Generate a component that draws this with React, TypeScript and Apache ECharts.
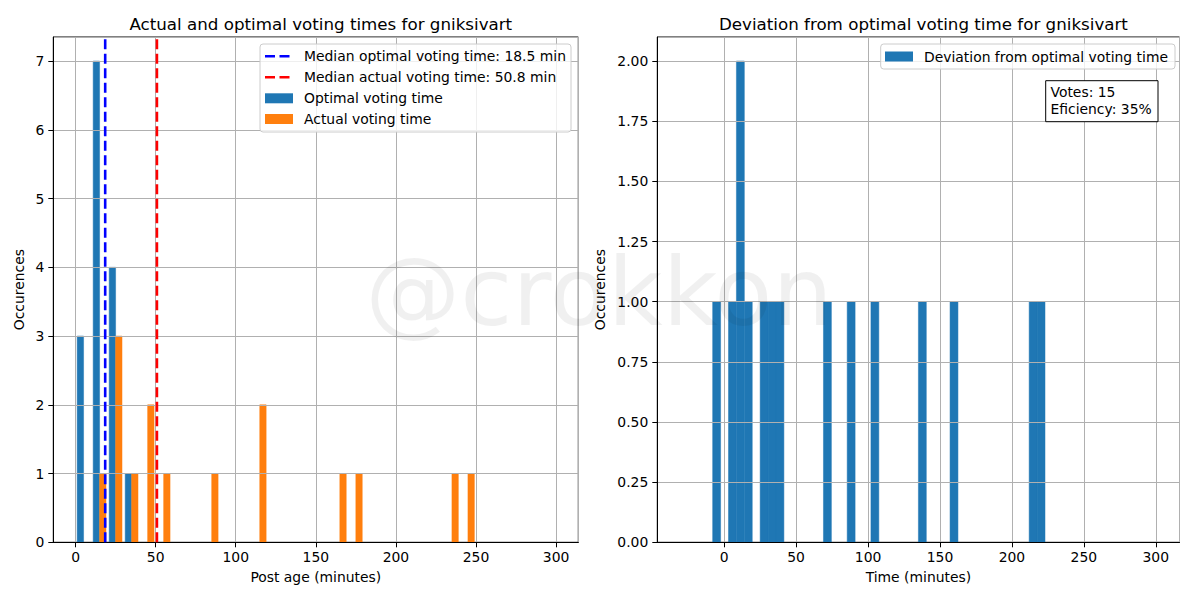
import React, { useEffect, useRef } from "react";
import * as echarts from "echarts";

// ---- Data ----
const leftBinWidth = 10;
const optimalBinStarts = [0, 10, 20, 30];
const optimalCounts = [3, 7, 4, 1];
const actualBinStarts = [10, 20, 30, 40, 50, 80, 110, 160, 170, 230, 240];
const actualCounts = [1, 3, 1, 2, 1, 1, 2, 1, 1, 1, 1];
const medianOptimal = 18.5;
const medianActual = 50.8;

const rightBinWidth = 5.5;
const deviationBinStarts = [-8, 3, 8.5, 14, 25, 30.5, 36, 69, 85.5, 102, 135, 157, 212, 217.5];
const deviationCounts = [1, 1, 2, 1, 1, 1, 1, 1, 1, 1, 1, 1, 1, 1];

const votes = 15;
const efficiency = 35;

const leftTitle = "Actual and optimal voting times for gniksivart";
const rightTitle = "Deviation from optimal voting time for gniksivart";

const BLUE = "#1f77b4";
const ORANGE = "#ff7f0e";
const FONT = "DejaVu Sans";
const FS = 13.9;

function rectItem(params: any, api: any) {
  const x0 = api.value(0);
  const x1 = api.value(1);
  const y = api.value(2);
  const p0 = api.coord([x0, y]);
  const p1 = api.coord([x1, 0]);
  const c = api.visual("color");
  return {
    type: "rect",
    shape: { x: p0[0], y: p0[1], width: p1[0] - p0[0], height: p1[1] - p0[1] },
    style: { fill: c, stroke: c, lineWidth: 0.5 },
  };
}

export default function App() {
  const ref = useRef<HTMLDivElement>(null);
  useEffect(() => {
    if (!ref.current) return;
    const chart = echarts.init(ref.current, undefined, { renderer: "svg" });

    const optData = optimalBinStarts.map((b, i) => [b + 0.1 * leftBinWidth, b + 0.5 * leftBinWidth, optimalCounts[i]]);
    const actData = actualBinStarts.map((b, i) => [b + 0.5 * leftBinWidth, b + 0.9 * leftBinWidth, actualCounts[i]]);
    const devData = deviationBinStarts.map((b, i) => [b, b + rightBinWidth, deviationCounts[i]]);

    const axisCommon = {
      z: 3,
      axisLine: { show: true, onZero: false, lineStyle: { color: "#000", width: 1 } },
      axisTick: { show: true, length: 5, lineStyle: { color: "#000" } },
      splitLine: { show: true, lineStyle: { color: "#b0b0b0", width: 1 } },
      axisLabel: { color: "#000", fontSize: FS, fontFamily: FONT, showMinLabel: false, showMaxLabel: false },
      nameTextStyle: { color: "#000", fontSize: FS, fontFamily: FONT },
    };

    const option: any = {
      animation: false,
      textStyle: { fontFamily: FONT },
      title: [
        { text: leftTitle, left: 315.8, top: 10, textAlign: "center", textStyle: { fontSize: 16.7, fontWeight: "normal", color: "#000", fontFamily: FONT } },
        { text: rightTitle, left: 918.4, top: 10, textAlign: "center", textStyle: { fontSize: 16.7, fontWeight: "normal", color: "#000", fontFamily: FONT } },
      ],
      grid: [
        { left: 53.3, top: 37, width: 525, height: 505.3, show: true, borderColor: "#000", borderWidth: 1, backgroundColor: "transparent", containLabel: false },
        { left: 657.3, top: 37, width: 522.2, height: 505.3, show: true, borderColor: "#000", borderWidth: 1, backgroundColor: "transparent", containLabel: false },
      ],
      xAxis: [
        { ...axisCommon, type: "value", gridIndex: 0, min: -13.9, max: 313.9, splitNumber: 6, name: "Post age (minutes)", nameLocation: "middle", nameGap: 28,
          axisLabel: { ...axisCommon.axisLabel, margin: 8 } },
        { ...axisCommon, type: "value", gridIndex: 1, min: -46.5, max: 316.5, splitNumber: 7, name: "Time (minutes)", nameLocation: "middle", nameGap: 28,
          axisLabel: { ...axisCommon.axisLabel, margin: 8 } },
      ],
      yAxis: [
        { ...axisCommon, type: "value", gridIndex: 0, min: 0, max: 7.35, interval: 1, name: "Occurences", nameLocation: "middle", nameGap: 27,
          axisLabel: { ...axisCommon.axisLabel, showMinLabel: true, margin: 9 } },
        { ...axisCommon, type: "value", gridIndex: 1, min: 0, max: 2.1, interval: 0.25, name: "Occurences", nameLocation: "middle", nameGap: 50,
          axisLabel: { ...axisCommon.axisLabel, showMinLabel: true, margin: 9, formatter: (v: number) => v.toFixed(2) } },
      ],
      series: [
        { type: "custom", name: "Optimal voting time", xAxisIndex: 0, yAxisIndex: 0, data: optData, renderItem: rectItem, itemStyle: { color: BLUE }, encode: { x: [0, 1], y: 2 }, clip: true, z: 2 },
        { type: "custom", name: "Actual voting time", xAxisIndex: 0, yAxisIndex: 0, data: actData, renderItem: rectItem, itemStyle: { color: ORANGE }, encode: { x: [0, 1], y: 2 }, clip: true, z: 2 },
        { type: "line", name: "Median optimal voting time", xAxisIndex: 0, yAxisIndex: 0, data: [[medianOptimal, 0], [medianOptimal, 7.35]], symbol: "none", lineStyle: { color: "#0000ff", width: 2.6, type: [10, 4.5] }, z: 5 },
        { type: "line", name: "Median actual voting time", xAxisIndex: 0, yAxisIndex: 0, data: [[medianActual, 0], [medianActual, 7.35]], symbol: "none", lineStyle: { color: "#ff0000", width: 2.6, type: [10, 4.5] }, z: 5 },
        { type: "custom", name: "Deviation from optimal voting time", xAxisIndex: 1, yAxisIndex: 1, data: devData, renderItem: rectItem, itemStyle: { color: BLUE }, encode: { x: [0, 1], y: 2 }, clip: true, z: 2 },
      ],
      graphic: [
        // left legend
        { type: "rect", shape: { x: 260, y: 44, width: 311, height: 88, r: 3 }, style: { fill: "rgba(255,255,255,0.8)", stroke: "#cccccc", lineWidth: 1 }, z: 50 },
        { type: "line", shape: { x1: 265, y1: 56.3, x2: 293, y2: 56.3 }, style: { stroke: "#0000ff", lineWidth: 2.6, lineDash: [10, 4.5] }, z: 51 },
        { type: "text", x: 304, y: 56.3, style: { text: `Median optimal voting time: ${medianOptimal} min`, fill: "#000", font: `${FS}px ${FONT}`, verticalAlign: "middle" }, z: 51 },
        { type: "line", shape: { x1: 265, y1: 77.3, x2: 293, y2: 77.3 }, style: { stroke: "#ff0000", lineWidth: 2.6, lineDash: [10, 4.5] }, z: 51 },
        { type: "text", x: 304, y: 77.3, style: { text: `Median actual voting time: ${medianActual} min`, fill: "#000", font: `${FS}px ${FONT}`, verticalAlign: "middle" }, z: 51 },
        { type: "rect", shape: { x: 265, y: 93.3, width: 28, height: 10 }, style: { fill: BLUE }, z: 51 },
        { type: "text", x: 304, y: 98.3, style: { text: "Optimal voting time", fill: "#000", font: `${FS}px ${FONT}`, verticalAlign: "middle" }, z: 51 },
        { type: "rect", shape: { x: 265, y: 114, width: 28, height: 10 }, style: { fill: ORANGE }, z: 51 },
        { type: "text", x: 304, y: 119, style: { text: "Actual voting time", fill: "#000", font: `${FS}px ${FONT}`, verticalAlign: "middle" }, z: 51 },
        // right legend
        { type: "rect", shape: { x: 880.7, y: 44, width: 294.3, height: 25, r: 3 }, style: { fill: "rgba(255,255,255,0.8)", stroke: "#cccccc", lineWidth: 1 }, z: 50 },
        { type: "rect", shape: { x: 885, y: 51.5, width: 28, height: 10 }, style: { fill: BLUE }, z: 51 },
        { type: "text", x: 924, y: 56.5, style: { text: "Deviation from optimal voting time", fill: "#000", font: `${FS}px ${FONT}`, verticalAlign: "middle" }, z: 51 },
        // stats box
        { type: "rect", shape: { x: 1045.7, y: 80.7, width: 112.3, height: 41 }, style: { fill: "#fff", stroke: "#000", lineWidth: 1 }, z: 50 },
        { type: "text", x: 1050.5, y: 92, style: { text: `Votes: ${votes}`, fill: "#000", font: `${FS}px ${FONT}`, verticalAlign: "middle" }, z: 51 },
        { type: "text", x: 1050.5, y: 108.5, style: { text: `Eficiency: ${efficiency}%`, fill: "#000", font: `${FS}px ${FONT}`, verticalAlign: "middle" }, z: 51 },
        // watermark (it lies across the plots, as in the reference)
        { type: "text", x: 599, y: 292, style: { text: "@crokkon", fill: "rgba(0,0,0,0.06)", font: `95px ${FONT}`, align: "center", verticalAlign: "middle" }, z: 100 },
      ],
    };
    chart.setOption(option);
    return () => chart.dispose();
  }, []);
  return <div ref={ref} style={{ position: "fixed", left: 0, top: 0, width: 1200, height: 600, background: "#fff" }} />;
}
